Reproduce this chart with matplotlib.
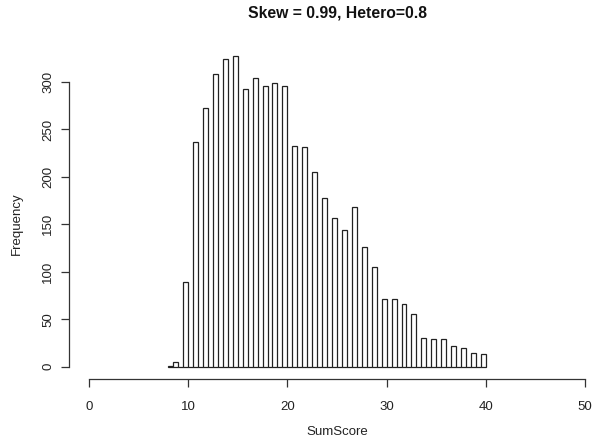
import numpy as np
import matplotlib
matplotlib.use("Agg")
import matplotlib.pyplot as plt

plt.rcParams["font.family"] = ["Liberation Sans", "DejaVu Sans"]

# Frequency of each integer SumScore
scores = list(range(8, 41))
counts = [1, 5, 89, 237, 273, 308, 324, 327, 293, 304, 296, 299, 296,
          233, 231, 205, 178, 157, 144, 168, 126, 105, 71, 71, 66, 55,
          30, 29, 29, 22, 20, 14, 13]

title = "Skew = 0.99, Hetero=0.8"
xlabel = "SumScore"
ylabel = "Frequency"
xticks = [0, 10, 20, 30, 40, 50]
yticks = [0, 50, 100, 150, 200, 250, 300]

# Half-unit bins, right-closed (lowest bin closed on both ends)
edges = np.arange(8, 40.5, 0.5)
heights = np.zeros(len(edges) - 1)
for s, c in zip(scores, counts):
    idx = 0 if s == 8 else int(round(2 * (s - 8))) - 1
    heights[idx] += c

W, H = 595, 446
fig = plt.figure(figsize=(W / 100, H / 100), dpi=100)
left, right, bottom, top = 69, 605, 379, 44
ax = fig.add_axes([left / W, 1 - bottom / H, (right - left) / W, (bottom - top) / H])

ax.bar(edges[:-1], heights, width=0.5, align="edge", facecolor="white",
       edgecolor="#222222", linewidth=0.9)

ax.set_xlim(-2, 52)
ax.set_ylim(-327 * 0.04, 327 * 1.04)

for side in ("top", "right"):
    ax.spines[side].set_visible(False)
ax.spines["bottom"].set_bounds(0, 50)
ax.spines["left"].set_bounds(0, 300)
for side in ("bottom", "left"):
    ax.spines[side].set_color("#333333")
    ax.spines[side].set_linewidth(0.9)

ax.set_xticks(xticks)
ax.set_yticks(yticks)
ax.tick_params(direction="out", length=5.5, width=0.9, color="#333333",
               labelsize=9.5, labelcolor="#222222")
ax.tick_params(axis="x", pad=10)
ax.tick_params(axis="y", pad=5)
for lab in ax.get_yticklabels():
    lab.set_rotation(90)
    lab.set_va("center")

fig.text((left + right) / 2 / W, 1 - 13 / H, title, ha="center", va="center",
         fontsize=11.3, fontweight="bold", color="#111111")
fig.text((left + right) / 2 / W, 1 - 432 / H, xlabel, ha="center", va="center",
         fontsize=9.5, color="#222222")
fig.text(17 / W, 1 - ((366 + 82) / 2) / H, ylabel, ha="center", va="center",
         rotation=90, fontsize=9.5, color="#222222")

fig.savefig("out.png", dpi=100)
